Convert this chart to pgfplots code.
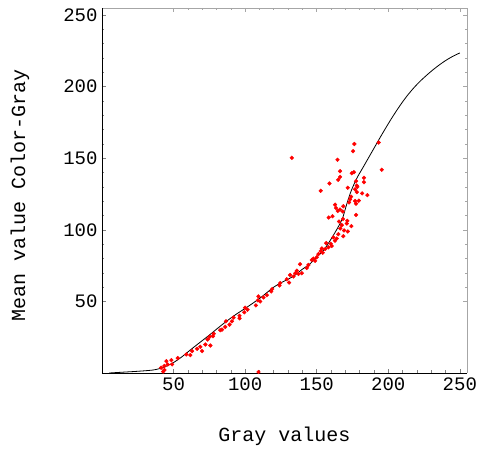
\documentclass[border=0pt]{standalone}
\usepackage{fontspec}
\setmainfont{Liberation Mono}
\usepackage{pgfplots}
\pgfplotsset{compat=1.18}

\pgfplotstableread{
x y
132.6 150.3
176.3 160.0
175.4 155.0
193.3 161.0
195.4 142.0
164.5 149.0
166.3 141.0
166.3 137.0
165.0 135.0
158.9 132.4
152.8 127.3
174.5 139.6
176.0 140.3
183.0 136.4
183.0 133.3
177.5 134.0
178.0 131.0
178.4 130.0
176.8 128.3
171.7 129.4
178.0 126.4
181.7 125.5
185.4 124.3
174.0 123.2
173.3 121.3
176.8 120.2
179.4 120.4
172.6 119.2
177.5 118.3
162.8 117.6
163.5 115.3
168.6 116.5
164.7 113.2
166.3 114.2
168.2 112.8
177.5 110.4
158.4 108.6
161.0 109.5
168.4 107.6
165.6 105.8
171.4 106.3
167.5 103.3
171.0 104.4
174.2 102.6
166.5 101.0
169.1 99.6
171.7 98.9
165.1 97.0
168.6 95.6
161.6 94.7
164.0 94.0
162.8 92.4
159.8 90.3
156.6 90.8
160.5 88.7
158.2 87.8
155.9 86.6
153.6 87.0
152.8 85.2
154.2 84.0
151.2 83.1
150.0 80.8
147.7 79.9
146.6 79.0
148.9 78.3
138.4 76.0
144.2 75.5
143.1 73.4
136.1 71.5
135.0 69.7
137.2 69.2
139.6 69.7
131.4 68.5
129.1 65.5
133.8 67.4
130.7 63.2
124.0 61.1
124.5 62.8
118.9 58.6
118.2 57.0
115.2 54.4
112.8 52.8
109.3 53.5
110.5 50.0
107.5 47.2
108.9 50.7
101.7 44.2
100.0 45.6
99.4 42.4
96.1 40.0
96.1 38.2
91.9 38.7
90.8 36.1
89.1 33.8
86.6 36.1
86.1 32.2
83.8 30.3
82.6 29.9
78.0 27.4
77.5 25.7
75.2 25.3
73.8 23.4
75.7 19.2
72.2 19.9
68.7 18.3
69.9 15.3
66.4 16.9
62.9 15.3
61.7 12.5
58.9 13.0
52.9 10.4
48.5 9.0
45.0 8.3
45.9 6.0
49.0 6.0
43.6 4.9
41.3 3.7
43.6 2.1
42.7 1.0
109.3 0.7
}\samples

\pgfplotstableread{
x y
5 0
15 0.6
25 1.2
35 2.0
40 3.0
45 4.8
50 7.3
55 10.7
60 14.7
65 18.7
70 22.6
75 26.5
80 30.6
85 34.6
90 38.4
95 41.9
100 45.1
105 48.5
110 52
115 56
120 60
125 63
130 65.5
135 68.5
140 72.5
145 76
150 81
155 86
160 93.5
165 102
168 108
171 118
174 127
178 136
182 143
186 150
190 157
194 164
198 170.8
202 177.4
206 183.6
210 189.4
214 194.7
218 199.4
222 203.6
226 207.3
230 210.8
234 214.0
238 216.9
242 219.5
246 221.7
250 223.6
}\fitcurve

\pgfplotsset{
  frame/.style={
    at={(102pt,80pt)}, anchor=south west,
    width=365pt, height=365pt, scale only axis,
    xmin=0, xmax=255, ymin=0, ymax=255,
    xtick={50,100,...,250}, ytick={50,100,...,250},
    minor x tick num=4, minor y tick num=4,
    tick align=inside,
    major tick length=4pt, minor tick length=2.5pt,
    tick style={line width=0.6pt},
    axis line style={line width=0.8pt},
  }
}

\begin{document}
\begin{tikzpicture}
\path[use as bounding box] (0,0) rectangle (480pt,453pt);
% gray top and right frame
\begin{axis}[frame,
  axis x line*=top, axis y line*=right,
  xtick pos=right, ytick pos=right,
  tick align=inside,
  xticklabels={}, yticklabels={},
  axis line style={gray!70},
  tick style={gray!70},
]
\end{axis}
\begin{axis}[frame,
  axis x line*=bottom, axis y line*=left,
  xtick pos=left, ytick pos=left,
  tick align=inside,
  clip=false,
  ticklabel style={font=\fontsize{19}{22}\selectfont},
  /pgf/number format/assume math mode=true,
  xticklabel style={yshift=-1pt},
  yticklabel style={xshift=-1pt},
  xlabel={Gray values},
  ylabel={Mean value Color-Gray},
  label style={font=\fontsize{20}{24}\selectfont},
  xlabel style={at={(rel axis cs:0.5,-0.1726)}, anchor=center},
  ylabel style={at={(rel axis cs:-0.2247,0.4877)}, anchor=center},
]
\addplot[black, line width=0.8pt, smooth] table[x=x, y=y] {\fitcurve};
\addplot[only marks, mark=*, mark size=1.9pt, color=red, draw=none] table[x=x, y=y] {\samples};
\end{axis}
\end{tikzpicture}
\end{document}
